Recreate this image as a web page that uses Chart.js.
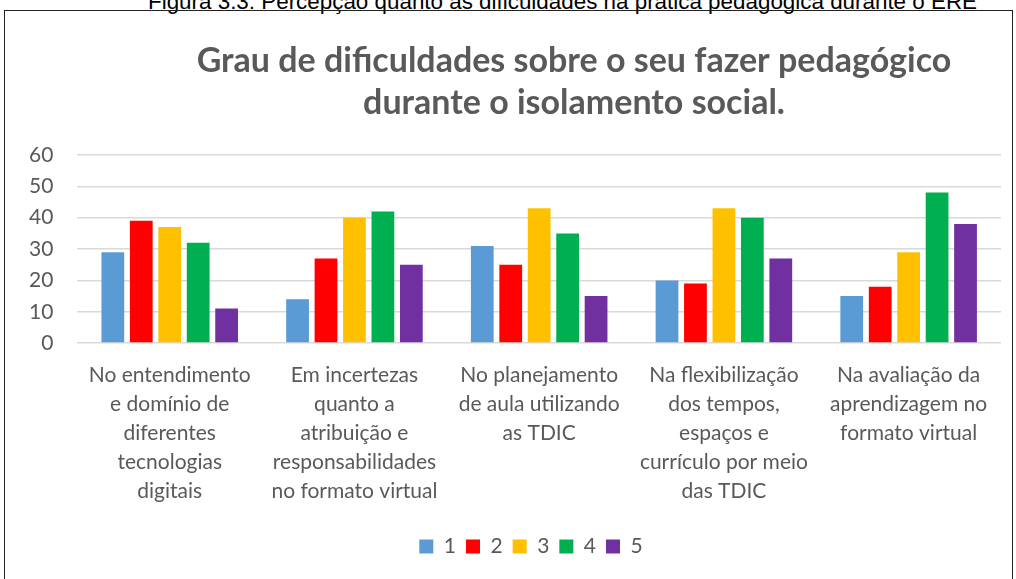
<!DOCTYPE html>
<html>
<head>
<meta charset="utf-8">
<script src="https://cdn.jsdelivr.net/npm/chart.js@4"></script>
<style>
  body { margin: 0; background: #fff; width: 1016px; height: 579px; overflow: hidden; position: relative; }
  .caption { position: absolute; top: -11px; left: 148px; white-space: nowrap; font-family: "Liberation Sans", sans-serif; font-size: 22.4px; color: #000; }
  .box { position: absolute; left: 4px; top: 10px; width: 1009px; height: 580px; border: 1.5px solid #222; box-sizing: border-box; }
  canvas { display: block; }
</style>
</head>
<body>
<div class="caption">Figura 3.3: Percepção quanto às dificuldades na prática pedagógica durante o ERE</div>
<div class="box"><canvas id="chart" width="1006" height="577"></canvas></div>
<script>
const categories = [
  ["No entendimento", "e domínio de", "diferentes", "tecnologias", "digitais"],
  ["Em incertezas", "quanto a", "atribuição e", "responsabilidades", "no formato virtual"],
  ["No planejamento", "de aula utilizando", "as TDIC"],
  ["Na flexibilização", "dos tempos,", "espaços e", "currículo por meio", "das TDIC"],
  ["Na avaliação da", "aprendizagem no", "formato virtual"]
]
const seriesNames = ["1", "2", "3", "4", "5"]
const seriesColors = ["#5B9BD5", "#FF0000", "#FFC000", "#00B050", "#7030A0"]
const grau1 = [29, 14, 31, 20, 15]
const grau2 = [39, 27, 25, 19, 18]
const grau3 = [37, 40, 43, 43, 29]
const grau4 = [32, 42, 35, 40, 48]
const grau5 = [11, 25, 15, 27, 38]
const yTicks = [0, 10, 20, 30, 40, 50, 60]
const titleLines = ["Grau de dificuldades sobre o seu fazer pedagógico", "durante o isolamento social."]

const values = [grau1, grau2, grau3, grau4, grau5]
const textColor = "#595959"
const fontFamily = "Lato, 'Open Sans', sans-serif"

// title sits off-centre in the original, so draw it by hand
const titlePlugin = {
  id: "offsetTitle",
  afterDraw(chart) {
    const ctx = chart.ctx
    ctx.save()
    ctx.fillStyle = textColor
    ctx.font = "bold 34px " + fontFamily
    ctx.textAlign = "center"
    ctx.textBaseline = "middle"
    titleLines.forEach((line, i) => ctx.fillText(line, 569, 50 + i * 42))
    ctx.restore()
  },
}

const legendShift = {
  id: "legendShift",
  afterLayout(chart) {
    chart.legend.left += 28
    chart.legend.right += 28
  },
}

new Chart(document.getElementById("chart"), {
  type: "bar",
  data: {
    labels: categories,
    datasets: seriesNames.map((name, i) => ({
      label: name,
      data: values[i],
      backgroundColor: seriesColors[i],
      borderWidth: 0,
      categoryPercentage: 0.77,
      barPercentage: 0.8,
    })),
  },
  options: {
    responsive: false,
    animation: false,
    layout: { padding: { top: 144, left: 0, right: 10, bottom: 21 } },
    plugins: {
      title: { display: false },
      tooltip: { enabled: false },
      legend: {
        position: "bottom",
        labels: {
          color: textColor,
          font: { family: fontFamily, size: 21 },
          usePointStyle: true,
          pointStyle: "rect",
          boxWidth: 14,
          boxHeight: 14,
          padding: 10,
        },
      },
    },
    scales: {
      y: {
        min: 0,
        max: 60,
        afterBuildTicks: (scale) => { scale.ticks = yTicks.map((v) => ({ value: v })) },
        grid: { color: "#D9D9D9", lineWidth: 1.5, drawTicks: false },
        border: { display: false },
        ticks: { color: textColor, font: { family: fontFamily, size: 21 }, padding: 24 },
      },
      x: {
        grid: { display: false },
        border: { display: false },
        afterFit: (scale) => { scale.height += 10 },
        ticks: {
          color: textColor,
          font: { family: fontFamily, size: 21, lineHeight: 1.38 },
          maxRotation: 0,
          autoSkip: false,
          padding: 10,
        },
      },
    },
  },
  plugins: [titlePlugin, legendShift],
})
</script>
</body>
</html>
